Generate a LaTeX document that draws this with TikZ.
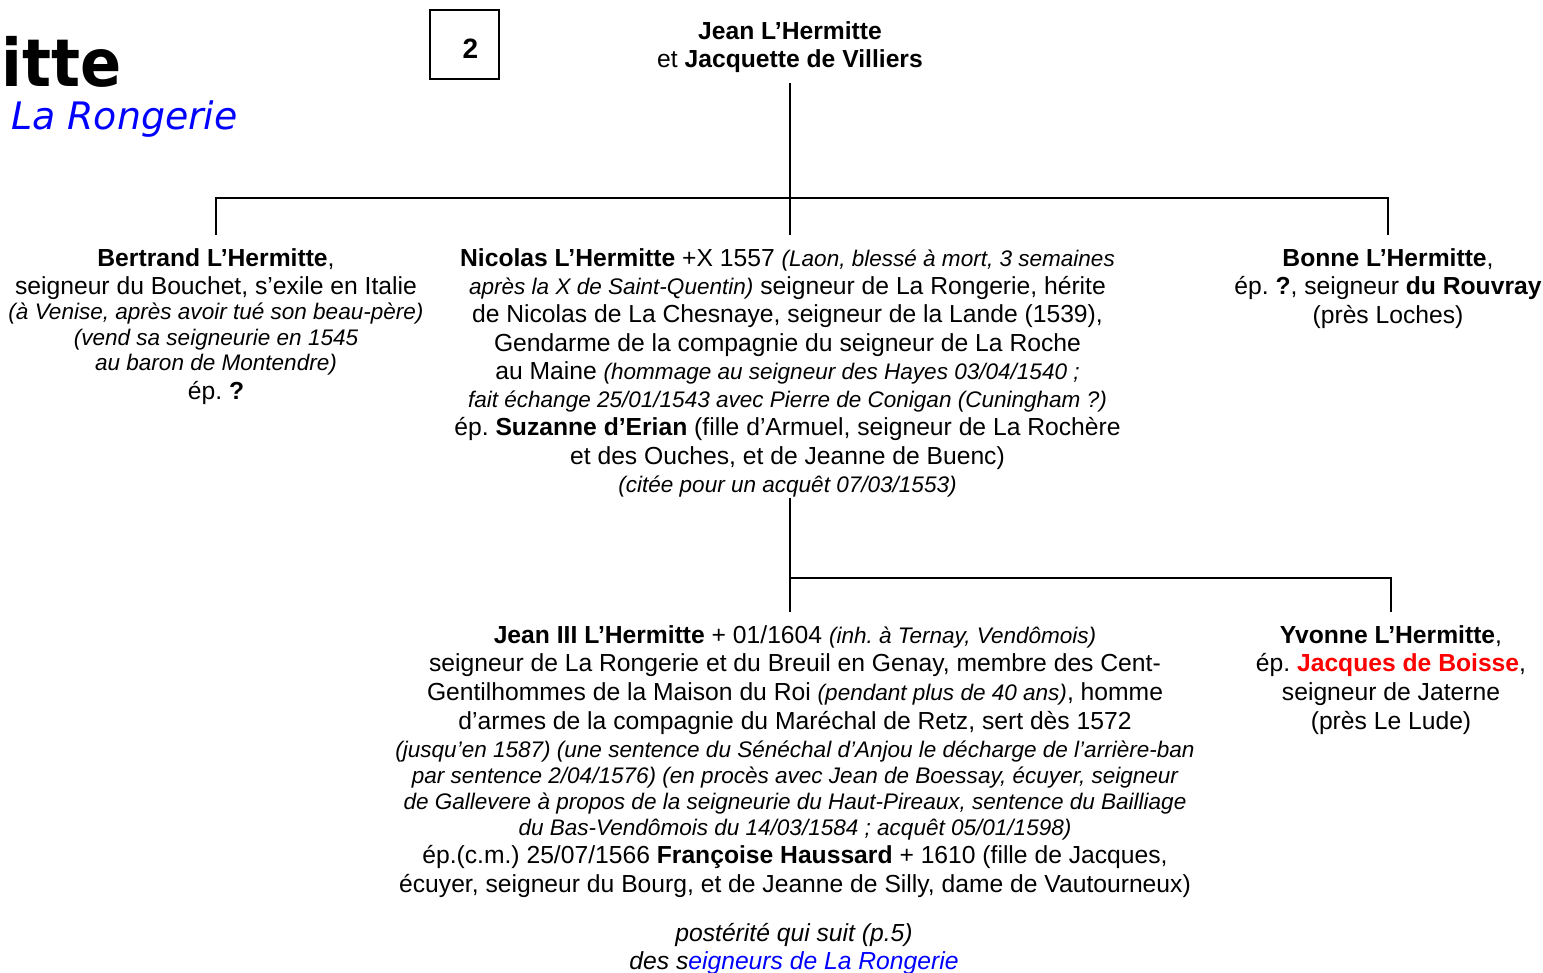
\documentclass[tikz,border=0pt]{standalone}
\usepackage{fontspec}
\setmainfont{Liberation Sans}
\newfontfamily\verdanafont{DejaVu Sans}
\frenchspacing
\newcommand{\remit}[1]{{\itshape\fontsize{16.9}{19}\selectfont #1}}
\tikzset{
  person/.style={align=center, inner sep=0pt, outer ysep=10pt, font=\fontsize{18.5}{21.5}\selectfont},
  tree/.style={line width=1.6pt},
}
\begin{document}
\begin{tikzpicture}[x=0.75pt,y=0.75pt,yscale=-1,xscale=1]
\useasboundingbox (0,0) rectangle (1543,973);
\draw (1,87) node [anchor=base west][inner sep=0pt] (surname) {\verdanafont\bfseries\fontsize{49.5}{50}\selectfont\scalebox{0.92}[1]{itte}};
\draw (11,130) node [anchor=base west][inner sep=0pt][text=blue] (branch) {\verdanafont\itshape\fontsize{28.4}{30}\selectfont La Rongerie};
\draw [line width=1pt] (430,10) rectangle (499,79);
\draw (470.5,49) node [inner sep=0pt,font=\bfseries\fontsize{21}{24}\selectfont] (pageno) {2};
\draw (790,8) node [person,anchor=north] (couple) {\textbf{Jean L’Hermitte}\\ et \textbf{Jacquette de Villiers}};
\draw (216,235) node [person,anchor=north] (bertrand) {\textbf{Bertrand L’Hermitte},\\
seigneur du Bouchet, s’exile en Italie\\[-2.8pt]
\remit{(à Venise, après avoir tué son beau-père)}\\[-2.4pt]
\remit{(vend sa seigneurie en 1545}\\[-2.4pt]
\remit{au baron de Montendre)}\\
ép. \textbf{?}};
\draw (787.5,235) node [person,anchor=north,font=\fontsize{18.5}{21.2}\selectfont] (nicolas) {\textbf{Nicolas L’Hermitte} +X 1557 \remit{(Laon, blessé à mort, 3 semaines}\\
\remit{après la X de Saint-Quentin)} seigneur de La Rongerie, hérite\\
de Nicolas de La Chesnaye, seigneur de la Lande (1539),\\
Gendarme de la compagnie du seigneur de La Roche\\
au Maine \remit{(hommage au seigneur des Hayes 03/04/1540 ;}\\
\remit{fait échange 25/01/1543 avec Pierre de Conigan (Cuningham ?)}\\
ép. \textbf{Suzanne d’Erian} (fille d’Armuel, seigneur de La Rochère\\
et des Ouches, et de Jeanne de Buenc)\\
\remit{(citée pour un acquêt 07/03/1553)}};
\draw (1388,235) node [person,anchor=north] (bonne) {\textbf{Bonne L’Hermitte},\\
ép. \textbf{?}, seigneur \textbf{du Rouvray}\\
(près Loches)};
\draw (795,612) node [person,anchor=north] (jean) {\textbf{Jean III L’Hermitte} + 01/1604 \remit{(inh. à Ternay, Vendômois)}\\
seigneur de La Rongerie et du Breuil en Genay, membre des Cent-\\
Gentilhommes de la Maison du Roi \remit{(pendant plus de 40 ans)}, homme\\
d’armes de la compagnie du Maréchal de Retz, sert dès 1572\\
\remit{(jusqu’en 1587) (une sentence du Sénéchal d’Anjou le décharge de l’arrière-ban}\\[-2.2pt]
\remit{par sentence 2/04/1576) (en procès avec Jean de Boessay, écuyer, seigneur}\\[-2.2pt]
\remit{de Gallevere à propos de la seigneurie du Haut-Pireaux, sentence du Bailliage}\\[-2.2pt]
\remit{du Bas-Vendômois du 14/03/1584 ; acquêt 05/01/1598)}\\
ép.(c.m.) 25/07/1566 \textbf{Françoise Haussard} + 1610 (fille de Jacques,\\
écuyer, seigneur du Bourg, et de Jeanne de Silly, dame de Vautourneux)};
\draw (1391,612) node [person,anchor=north] (yvonne) {\textbf{Yvonne L’Hermitte},\\
ép. \textcolor{red}{\textbf{Jacques de Boisse}},\\
seigneur de Jaterne\\
(près Le Lude)};
\draw (794,910) node [person,anchor=north,font=\itshape\fontsize{18.5}{21}\selectfont] (posterite) {postérité qui suit (p.5)\\
des s\textcolor{blue}{eigneurs de La Rongerie}};
\coordinate (bar1) at (790,198);
\coordinate (bar2) at (790,578);
\draw [tree] [shorten <=-2.25pt] (couple.south) -- (couple.south |- nicolas.north);
\draw [tree] (bertrand.north) -- (bertrand.north |- bar1) -- (bonne.north |- bar1) -- (bonne.north);
\draw [tree] [shorten <=-9.5pt] (nicolas.south -| bar2) -- (jean.north -| bar2);
\draw [tree] (bar2) -| (yvonne.north);
\end{tikzpicture}
\end{document}
